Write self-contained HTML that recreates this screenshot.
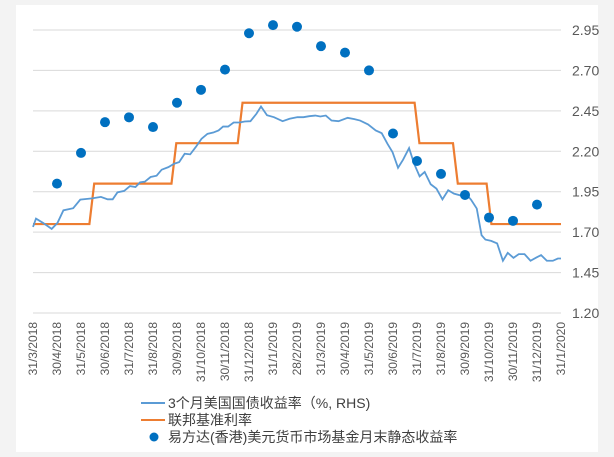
<!DOCTYPE html>
<html><head><meta charset="utf-8"><style>
body{margin:0;background:#f3f3f3;}
svg{display:block;font-family:"Liberation Sans","Noto Sans CJK SC",sans-serif;}
</style></head><body>
<svg id="chart" width="614" height="457">
<rect x="16" y="5" width="582" height="447" fill="#fff"/>
<g id="grid"></g><g id="series"></g><g id="axes"></g>
<g id="legend">
<line x1="141" y1="403" x2="165" y2="403" stroke="#5b9bd5" stroke-width="2"/>
<text x="168" y="408" font-size="14" fill="#404040">3个月美国国债收益率（%, RHS)</text>
<line x1="141" y1="420" x2="165" y2="420" stroke="#ed7d31" stroke-width="2"/>
<text x="168" y="425" font-size="14" fill="#404040">联邦基准利率</text>
<circle cx="154" cy="437" r="4.5" fill="#0070c0"/>
<text x="168" y="442" font-size="14" fill="#404040">易方达(香港)美元货币市场基金月末静态收益率</text>
</g>
</svg>
<script>
const xLabels=["31/3/2018","30/4/2018","31/5/2018","30/6/2018","31/7/2018","31/8/2018","30/9/2018","31/10/2018","30/11/2018","31/12/2018","31/1/2019","28/2/2019","31/3/2019","30/4/2019","31/5/2019","30/6/2019","31/7/2019","31/8/2019","30/9/2019","31/10/2019","30/11/2019","31/12/2019","31/1/2020"];
const yTicks=[1.20,1.45,1.70,1.95,2.20,2.45,2.70,2.95];
const fundMonths=[1,2,3,4,5,6,7,8,9,10,11,12,13,14,15,16,17,18,19,20,21];
const fundValues=[2.00,2.19,2.38,2.41,2.35,2.50,2.58,2.705,2.93,2.98,2.97,2.85,2.81,2.70,2.31,2.14,2.06,1.93,1.79,1.77,1.87];
const fedChangeMonths=[0,2.45,5.87,8.63,16,17.6,19];
const fedValues=[1.75,2.00,2.25,2.50,2.25,2.00,1.75];
const tMonths=[0,0.125,0.419,0.778,1.02,1.267,1.675,1.969,2.21,2.46,2.83,3.11,3.32,3.52,3.80,4.04,4.27,4.46,4.66,4.90,5.15,5.36,5.64,5.88,6.09,6.32,6.55,6.78,7.02,7.27,7.51,7.73,7.92,8.13,8.36,8.61,8.82,9.06,9.31,9.50,9.75,10.04,10.40,10.69,11.02,11.27,11.51,11.76,11.97,12.20,12.44,12.73,13.11,13.39,13.63,13.96,14.28,14.53,14.77,14.98,15.21,15.42,15.67,15.88,16.11,16.32,16.57,16.81,17.06,17.30,17.54,17.79,18.03,18.25,18.49,18.69,18.85,19.09,19.34,19.58,19.78,20.02,20.24,20.48,20.73,20.97,21.17,21.41,21.66,21.87,22.0];
const tValues=[1.732,1.784,1.757,1.720,1.757,1.835,1.848,1.901,1.905,1.909,1.918,1.903,1.903,1.946,1.955,1.985,1.979,2.008,2.012,2.041,2.049,2.086,2.102,2.123,2.133,2.185,2.181,2.226,2.277,2.308,2.316,2.329,2.353,2.353,2.378,2.378,2.384,2.386,2.432,2.477,2.423,2.411,2.386,2.401,2.411,2.411,2.417,2.421,2.415,2.421,2.390,2.386,2.407,2.399,2.390,2.366,2.329,2.312,2.246,2.195,2.098,2.148,2.220,2.123,2.045,2.072,1.996,1.969,1.903,1.959,1.938,1.928,1.938,1.901,1.846,1.681,1.654,1.646,1.630,1.523,1.572,1.541,1.564,1.564,1.523,1.543,1.558,1.523,1.523,1.537,1.537];
const X0=33,X1=561,Y0=313,Y1=30,NS="http://www.w3.org/2000/svg";
const xS=m=>X0+m*(X1-X0)/22;
const yS=v=>Y0-(v-1.20)*(Y0-Y1)/1.75;
function mk(t,a,p){const e=document.createElementNS(NS,t);for(const k in a)e.setAttribute(k,a[k]);p.appendChild(e);return e;}
const grid=document.getElementById('grid'),axes=document.getElementById('axes'),ser=document.getElementById('series');
yTicks.forEach(v=>{
 const l=mk('line',{x1:X0,x2:X1,y1:yS(v),y2:yS(v),stroke:'#d9d9d9','stroke-width':1},grid);
 
 
 const t=mk('text',{x:572,y:yS(v)+5,'font-size':14,fill:'#595959'},axes);
 t.textContent=v.toFixed(2);
 
 
});
xLabels.forEach((s,i)=>{
 const x=xS(i);
 const t=mk('text',{x:0,y:0,'font-size':12,fill:'#595959','text-anchor':'end',transform:`translate(${x+4},322) rotate(-90)`},axes);
 t.textContent=s;
 
 
});
// fed step line
let fp=[];
fedChangeMonths.forEach((m,i)=>{
 if(i===0){fp.push([xS(m),yS(fedValues[i])]);}
 else{fp.push([xS(m-0.1),yS(fedValues[i-1])]);fp.push([xS(m+0.1),yS(fedValues[i])]);}
});
fp.push([xS(22),yS(fedValues[fedValues.length-1])]);
const fed=mk('polyline',{points:fp.map(p=>p.join(',')).join(' '),fill:'none',stroke:'#ed7d31','stroke-width':2.2},ser);


const tl=mk('polyline',{points:tMonths.map((m,i)=>xS(m)+','+yS(tValues[i])).join(' '),fill:'none',stroke:'#5b9bd5','stroke-width':1.8},ser);


fundMonths.forEach((m,i)=>{
 const c=mk('circle',{cx:xS(m),cy:yS(fundValues[i]),r:5,fill:'#0070c0'},ser);
 
 
});
</script>
</body></html>
